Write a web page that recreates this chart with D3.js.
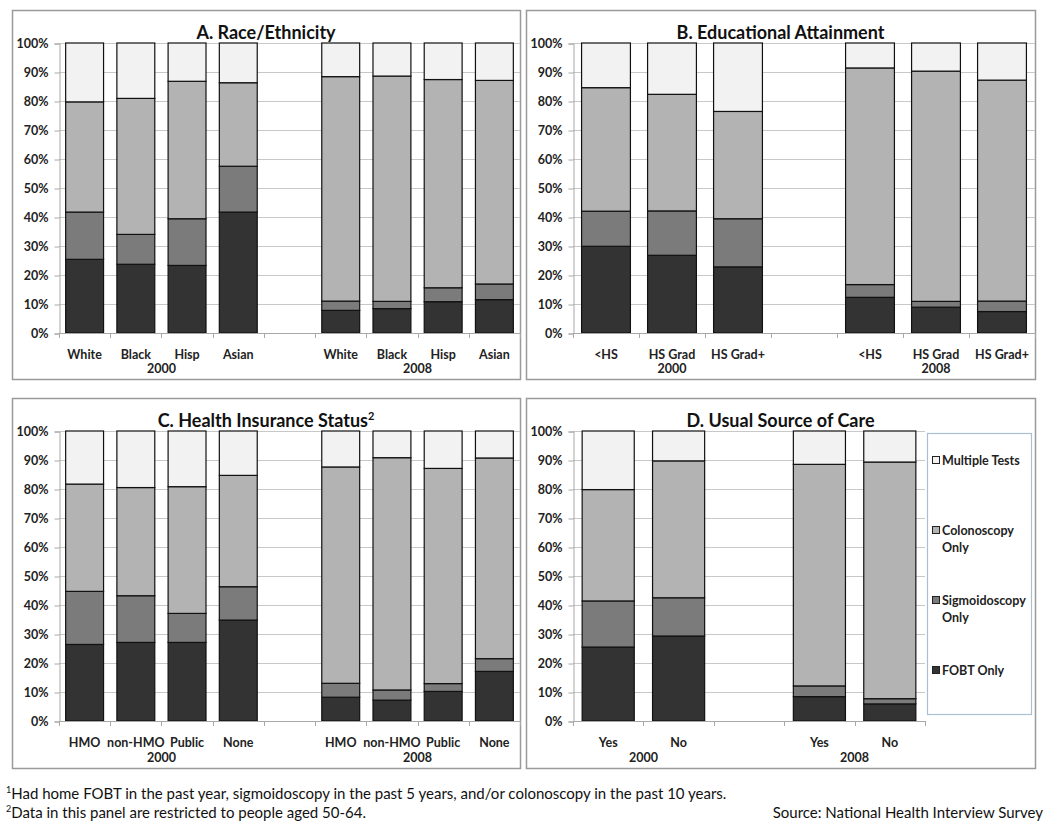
<!DOCTYPE html>
<html><head><meta charset="utf-8">
<script src="https://cdn.jsdelivr.net/npm/d3@7"></script>
<style>body{margin:0;background:#fff}svg{display:block}</style>
</head><body>
<svg id="chart" width="1050" height="833"></svg>
<script>
// ---------- DATA ----------
const seriesNames = ["FOBT Only", "Sigmoidoscopy Only", "Colonoscopy Only", "Multiple Tests"];
const seriesColors = ["#333333", "#7b7b7b", "#b3b3b3", "#f2f2f2"];
const yTickValues = [0, 10, 20, 30, 40, 50, 60, 70, 80, 90, 100];
const years = ["2000", "2008"];

// Panel A: Race/Ethnicity (2000 then 2008)
const raceCategories = ["White", "Black", "Hisp", "Asian"];
const raceFOBT     = [25.4, 23.7, 23.3, 41.7,   7.8,  8.4, 10.8, 11.5];
const raceSigmoid  = [16.3, 10.3, 16.1, 15.8,   3.2,  2.5,  4.8,  5.4];
const raceColon    = [38.0, 46.9, 47.4, 28.8,  77.4, 77.7, 71.8, 70.2];
const raceMultiple = [20.3, 19.1, 13.2, 13.7,  11.6, 11.4, 12.6, 12.9];

// Panel B: Educational Attainment
const eduCategories = ["<HS", "HS Grad", "HS Grad+"];
const eduFOBT     = [29.9, 26.8, 22.8,  12.3,  8.9,  7.4];
const eduSigmoid  = [12.1, 15.3, 16.6,   4.4,  2.0,  3.6];
const eduColon    = [42.6, 40.2, 37.0,  74.7, 79.4, 76.2];
const eduMultiple = [15.4, 17.7, 23.6,   8.6,  9.7, 12.8];

// Panel C: Health Insurance Status
const insCategories = ["HMO", "non-HMO", "Public", "None"];
const insFOBT     = [26.4, 27.1, 27.1, 34.8,   8.2,  7.2, 10.2, 17.1];
const insSigmoid  = [18.3, 16.1, 10.0, 11.5,   4.8,  3.5,  2.7,  4.4];
const insColon    = [37.0, 37.3, 43.7, 38.4,  74.6, 80.1, 74.2, 69.2];
const insMultiple = [18.3, 19.5, 19.2, 15.3,  12.4,  9.2, 12.9,  9.3];

// Panel D: Usual Source of Care
const careCategories = ["Yes", "No"];
const careFOBT     = [25.5, 29.3,   8.4,  5.9];
const careSigmoid  = [15.9, 13.2,   3.7,  1.8];
const careColon    = [38.4, 47.2,  76.4, 81.6];
const careMultiple = [20.2, 10.3,  11.5, 10.7];

const footnote1 = "Had home FOBT in the past year, sigmoidoscopy in the past 5 years, and/or colonoscopy in the past 10 years.";
const footnote2 = "Data in this panel are restricted to people aged 50-64.";
const sourceText = "Source: National Health Interview Survey";

// ---------- LAYOUT ----------
const FONT = "Lato, 'Open Sans', sans-serif";
const svg = d3.select("#chart");

const panels = [
  {title: "A. Race/Ethnicity", sup: null, cats: raceCategories, s: [raceFOBT, raceSigmoid, raceColon, raceMultiple],
   box: [12, 10, 520, 379], plot: [59, 520, 43, 333], labY: 359, yearY: 373, legend: false},
  {title: "B. Educational Attainment", sup: null, cats: eduCategories, s: [eduFOBT, eduSigmoid, eduColon, eduMultiple],
   box: [526, 10, 1035, 379], plot: [573, 1035, 43, 333], labY: 359, yearY: 373, legend: false},
  {title: "C. Health Insurance Status", sup: "2", cats: insCategories, s: [insFOBT, insSigmoid, insColon, insMultiple],
   box: [12, 398, 520, 768], plot: [59, 520, 431, 721], labY: 747, yearY: 762, legend: false},
  {title: "D. Usual Source of Care", sup: null, cats: careCategories, s: [careFOBT, careSigmoid, careColon, careMultiple],
   box: [526, 398, 1035, 768], plot: [573, 925, 431, 721], labY: 747, yearY: 762, legend: true}
];

panels.forEach(p => {
  const [bx0, by0, bx1, by1] = p.box;
  const [px0, px1, pyT, pyB] = p.plot;
  const g = svg.append("g");

  // panel border
  g.append("rect").attr("x", bx0 + 0.5).attr("y", by0 + 0.5)
    .attr("width", bx1 - bx0).attr("height", by1 - by0)
    .attr("fill", "#fff").attr("stroke", "#9a9a9a").attr("stroke-width", 1.5);

  // keys
  const keys = [];
  years.forEach((yr, yi) => {
    p.cats.forEach(c => keys.push(yr + "|" + c));
    if (yi === 0) keys.push("gap");
  });
  const rows = [];
  years.forEach((yr, yi) => p.cats.forEach((c, ci) => {
    const idx = yi * p.cats.length + ci;
    rows.push({key: yr + "|" + c, cat: c, year: yr,
      s0: p.s[0][idx], s1: p.s[1][idx], s2: p.s[2][idx], s3: p.s[3][idx]});
  }));

  const x = d3.scaleBand().domain(keys).range([px0, px1]).paddingInner(0.26).paddingOuter(0.13);
  const y = d3.scaleLinear().domain([0, 100]).range([pyB, pyT]);

  // gridlines
  g.append("g").selectAll("line").data(yTickValues.filter(v => v > 0)).join("line")
    .attr("x1", px0).attr("x2", px1)
    .attr("y1", d => Math.round(y(d)) + 0.5).attr("y2", d => Math.round(y(d)) + 0.5)
    .attr("stroke", "#c8c8c8").attr("stroke-width", 1);

  // y axis
  const yAxis = d3.axisLeft(y).tickValues(yTickValues).tickFormat(d => d + "%").tickSize(5).tickPadding(6);
  const ya = g.append("g").attr("transform", `translate(${px0 + 0.5},0.5)`).call(yAxis);
  ya.select(".domain").attr("stroke", "#a8a8a8");
  ya.selectAll(".tick line").attr("stroke", "#a8a8a8");
  ya.selectAll(".tick text").attr("font-family", FONT).attr("font-weight", "bold")
    .attr("font-size", 12.5).attr("fill", "#222").attr("dy", "0.35em");

  // bars
  const stack = d3.stack().keys(["s0", "s1", "s2", "s3"]);
  const layers = stack(rows);
  g.append("g").selectAll("g").data(layers).join("g")
    .attr("fill", (d, i) => seriesColors[i])
    .selectAll("rect").data(d => d).join("rect")
    .attr("x", d => x(d.data.key))
    .attr("width", x.bandwidth())
    .attr("y", d => y(d[1]))
    .attr("height", d => y(d[0]) - y(d[1]))
    .attr("stroke", "#111").attr("stroke-width", 1.2);

  // x axis line + ticks at category boundaries
  const step = x.step();
  const nSlots = keys.length;
  g.append("line").attr("x1", px0).attr("x2", px1)
    .attr("y1", pyB + 0.5).attr("y2", pyB + 0.5).attr("stroke", "#a8a8a8");
  g.append("g").selectAll("line").data(d3.range(nSlots + 1)).join("line")
    .attr("x1", i => Math.round(px0 + i * step) + 0.5).attr("x2", i => Math.round(px0 + i * step) + 0.5)
    .attr("y1", pyB).attr("y2", pyB + 5).attr("stroke", "#a8a8a8");

  // category labels
  g.append("g").selectAll("text").data(rows).join("text")
    .attr("x", d => x(d.key) + x.bandwidth() / 2).attr("y", p.labY)
    .attr("text-anchor", "middle").attr("font-family", FONT).attr("font-weight", "bold")
    .attr("font-size", 12.5).attr("fill", "#222").text(d => d.cat);

  // year labels
  years.forEach(yr => {
    const ks = rows.filter(r => r.year === yr).map(r => x(r.key) + x.bandwidth() / 2);
    g.append("text").attr("x", d3.mean([ks[0], ks[ks.length - 1]])).attr("y", p.yearY)
      .attr("text-anchor", "middle").attr("font-family", FONT).attr("font-weight", "bold")
      .attr("font-size", 12.5).attr("fill", "#222").text(yr);
  });

  // title
  const t = g.append("text").attr("x", (bx0 + bx1) / 2).attr("y", by0 + 29)
    .attr("text-anchor", "middle").attr("font-family", FONT).attr("font-weight", "bold")
    .attr("font-size", 18).attr("fill", "#111").text(p.title);
  if (p.sup) t.append("tspan").attr("dy", -7).attr("font-size", 11).text(p.sup);

  // legend
  if (p.legend) {
    const lx0 = 927, ly0 = 433, lx1 = 1031, ly1 = 714;
    g.append("rect").attr("x", lx0 + 0.5).attr("y", ly0 + 0.5).attr("width", lx1 - lx0).attr("height", ly1 - ly0)
      .attr("fill", "#fff").attr("stroke", "#a9c0d3").attr("stroke-width", 1.2);
    const items = [
      {i: 3, lines: ["Multiple Tests"], y: 461},
      {i: 2, lines: ["Colonoscopy", "Only"], y: 531},
      {i: 1, lines: ["Sigmoidoscopy", "Only"], y: 601},
      {i: 0, lines: ["FOBT Only"], y: 671}
    ];
    items.forEach(it => {
      g.append("rect").attr("x", 932.5).attr("y", it.y - 4.5).attr("width", 7).attr("height", 7)
        .attr("fill", seriesColors[it.i]).attr("stroke", "#222").attr("stroke-width", 1);
      const tx = g.append("text").attr("x", 942).attr("y", it.y).attr("dy", "0.35em")
        .attr("font-family", FONT).attr("font-weight", "bold").attr("font-size", 12.5).attr("fill", "#222");
      it.lines.forEach((ln, k) => tx.append("tspan").attr("x", 942).attr("dy", k === 0 ? "0.35em" : 16.5).text(ln));
    });
  }
});

// footnotes
const fn = svg.append("g").attr("font-family", FONT).attr("font-size", 15).attr("fill", "#111");
const f1 = fn.append("text").attr("x", 6).attr("y", 799);
f1.append("tspan").attr("font-size", 9).attr("dy", -6).text("1");
f1.append("tspan").attr("dy", 6).text(footnote1);
const f2 = fn.append("text").attr("x", 6).attr("y", 818);
f2.append("tspan").attr("font-size", 9).attr("dy", -6).text("2");
f2.append("tspan").attr("dy", 6).text(footnote2);
fn.append("text").attr("x", 1043).attr("y", 818).attr("text-anchor", "end").text(sourceText);
</script>
</body></html>
